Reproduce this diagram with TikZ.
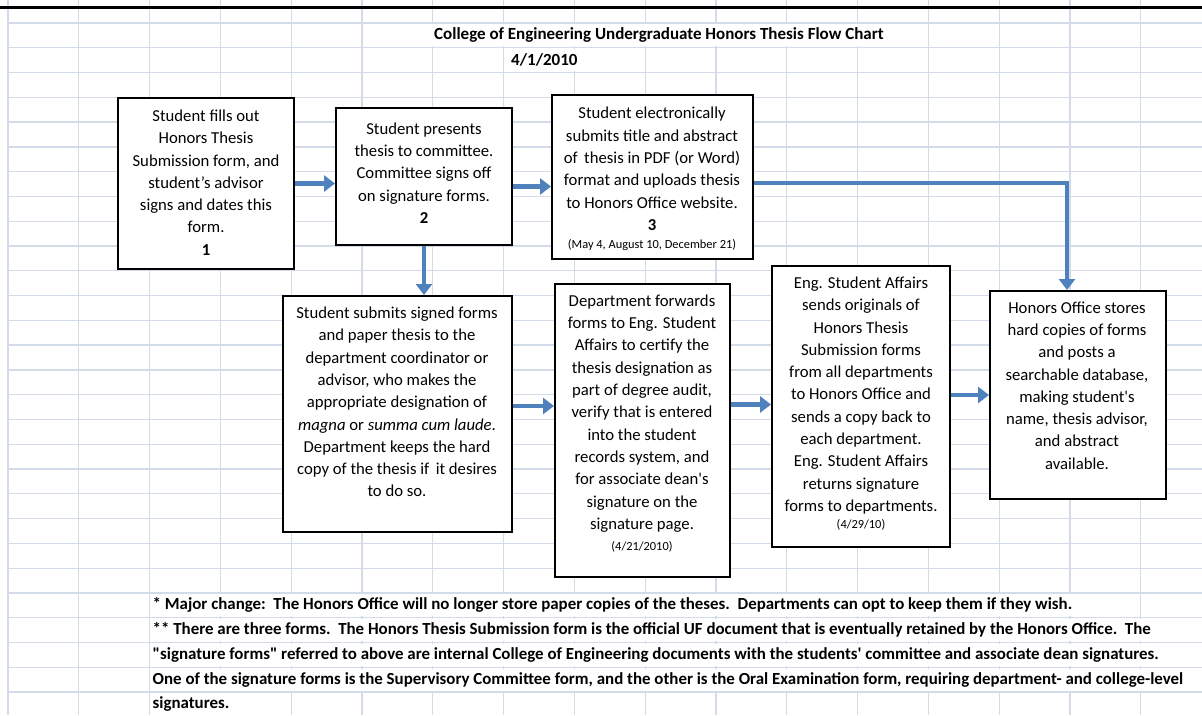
\documentclass[tikz,border=0pt]{standalone}
\usepackage{fontspec}
\setmainfont{Carlito}
\newfontfamily\calfont{Carlito}
\usetikzlibrary{arrows.meta,calc}
\definecolor{gridc}{RGB}{212,219,232}
\definecolor{arrc}{RGB}{79,129,189}
\begin{document}
\begin{tikzpicture}[x=1pt,y=-1pt,
  box/.style={draw=black,line width=2pt,fill=white,inner sep=0pt,rectangle},
  txt/.style={align=center,inner sep=0pt,font=\calfont\fontsize{16.7}{22.3}\selectfont},
  small/.style={inner sep=0pt,font=\calfont\fontsize{12.4}{14}\selectfont},
  arr/.style={draw=arrc,line width=4.5pt,-{Triangle[length=11pt,width=16pt]}},
  foot/.style={anchor=west,fill=white,inner xsep=2pt,inner ysep=0pt,minimum height=22pt,font=\calfont\fontsize{16.9}{18}\bfseries\selectfont},
  head/.style={fill=white,inner xsep=2pt,inner ysep=0pt,minimum height=22pt,font=\calfont\fontsize{17}{19}\bfseries\selectfont}]
\useasboundingbox (0,0) rectangle (1202,715);
\fill[white] (0,0) rectangle (1202,715);
% grid
\foreach \k in {0,...,16}{\draw[gridc,line width=1.3pt] ({8+70.8*\k},0) -- ({8+70.8*\k},715);}
\foreach \k in {0,...,27}{\draw[gridc,line width=1.3pt] (8,{23+24.78*\k}) -- (1202,{23+24.78*\k});}
\draw[black,line width=3pt] (0,7.5) -- (1202,7.5);
% title
\node[head,anchor=west] (title) at (432,35.4) {College of Engineering Undergraduate Honors Thesis Flow Chart};
\node[head,anchor=west] (date) at (509,60.2) {4/1/2010};
% boxes
\node[box,minimum width=176pt,minimum height=171pt] (b1) at (206,183.5) {};
\node[box,minimum width=176pt,minimum height=137pt] (b2) at (424,176.5) {};
\node[box,minimum width=201pt,minimum height=164pt] (b3) at (652.5,177) {};
\node[box,minimum width=229pt,minimum height=236pt] (b7) at (397.5,414) {};
\node[box,minimum width=175pt,minimum height=293pt] (b4) at (642.5,430.5) {};
\node[box,minimum width=178pt,minimum height=281pt] (b5) at (861,406.5) {};
\node[box,minimum width=176pt,minimum height=208pt] (b6) at (1078,395) {};
% texts
\node[txt] (t1) at (206,182.5) {Student fills out\\Honors Thesis\\Submission form, and\\student’s advisor\\signs and dates this\\form.\\\textbf{1}};
\node[txt] (t2) at (424,173) {Student presents\\thesis to committee.\\Committee signs off\\on signature forms.\\\textbf{2}};
\node[txt] (t3) at (652,169) {Student electronically\\submits title and abstract\\of\, thesis in PDF (or Word)\\format and uploads thesis\\to Honors Office website.\\\textbf{3}};
\node[small] (d3) at (652,245) {(May 4, August 10, December 21)};
\node[txt] (t7) at (397,402) {Student submits signed forms\\and paper thesis to the\\department coordinator or\\advisor, who makes the\\appropriate designation of\\\textit{magna} or \textit{summa cum laude}.\\Department keeps the hard\\copy of the thesis if\, it desires\\to do so.};
\node[txt] (t4) at (642,413.5) {Department forwards\\forms to Eng. Student\\Affairs to certify the\\thesis designation as\\part of degree audit,\\verify that is entered\\into the student\\records system, and\\for associate dean's\\signature on the\\signature page.};
\node[small] (d4) at (642,547) {(4/21/2010)};
\node[txt] (t5) at (861,395.5) {Eng. Student Affairs\\sends originals of\\Honors Thesis\\Submission forms\\from all departments\\to Honors Office and\\sends a copy back to\\each department.\\Eng. Student Affairs\\returns signature\\forms to departments.};
\node[small] (d5) at (861,525) {(4/29/10)};
\node[txt] (t6) at (1077,385.5) {Honors Office stores\\hard copies of forms\\and posts a\\searchable database,\\making student's\\name, thesis advisor,\\and abstract\\available.};
% arrows
\draw[arr] (b1.east) -- (b1.east -| b2.west);
\draw[arr] ([yshift=-10pt]b2.east) -- ([yshift=-10pt]b2.east -| b3.west);
\draw[arr] (b2.south) -- (b2.south |- b7.north);
\draw[arr] ([yshift=-6pt]b3.east) -| ([xshift=-11pt]b6.north);
\draw[arr] ([yshift=8pt]b7.east) -- ([yshift=8pt]b7.east -| b4.west);
\draw[arr] ([yshift=26pt]b4.east) -- ([yshift=26pt]b4.east -| b5.west);
\draw[arr] ([yshift=11.5pt]b5.east) -- ([yshift=11.5pt]b5.east -| b6.west);
% footnotes
\node[foot] (f1) at (150.5,605.3) {* Major change:\ \ The Honors Office will no longer store paper copies of the theses.\ \ Departments can opt to keep them if they wish.};
\node[foot] (f2) at (150.5,630.1) {** There are three forms.\ \ The Honors Thesis Submission form is the official UF document that is eventually retained by the Honors Office.\ \ The};
\node[foot] (f3) at (150.5,654.9) {"signature forms" referred to above are internal College of Engineering documents with the students' committee and associate dean signatures.};
\node[foot] (f4) at (150.5,679.7) {One of the signature forms is the Supervisory Committee form, and the other is the Oral Examination form, requiring department- and college-level};
\node[foot] (f5) at (150.5,704.4) {signatures.};
\end{tikzpicture}
\end{document}
